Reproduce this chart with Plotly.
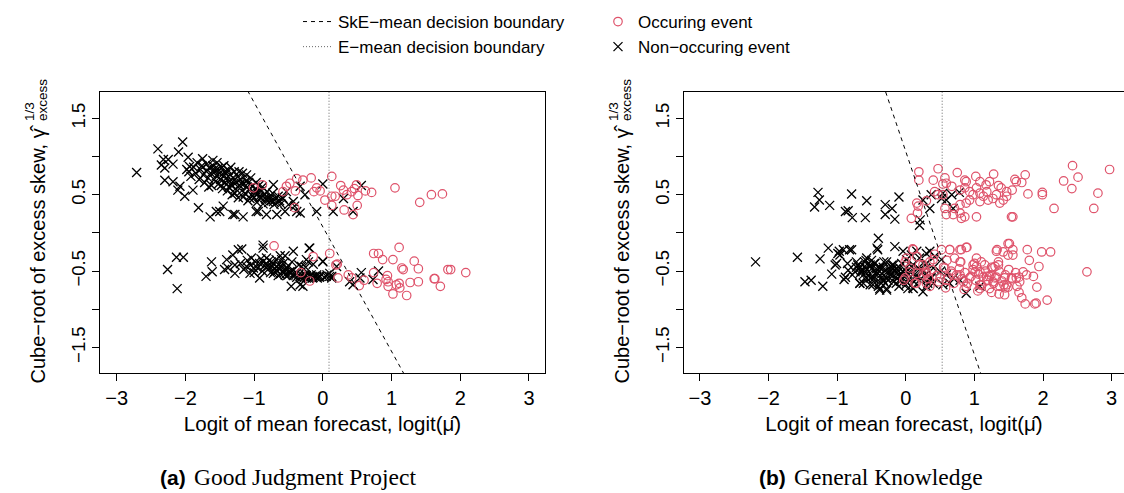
import plotly.graph_objects as go

# ================= DATA =================
# Panel (a) Good Judgment Project  -- (logit of mean forecast, cube-root excess skew)
a_non_upper = [
    (-2.71, 0.79), (-2.40, 1.10), (-2.04, 1.19), (-2.10, 1.06), (-2.32, 0.96), (-2.25, 0.96),
    (-2.35, 0.89), (-2.18, 0.90), (-2.30, 0.85), (-1.96, 0.99), (-1.94, 0.87), (-1.98, 0.83),
    (-2.30, 0.69), (-2.18, 0.67), (-2.08, 0.61), (-2.01, 0.48), (-2.11, 0.56), (-1.89, 0.56),
    (-1.81, 0.33), (-1.64, 0.21), (-1.55, 0.28), (-1.45, 0.35), (-1.28, 0.24), (-1.16, 0.21),
    (-0.94, 0.28), (-0.82, 0.24), (-0.67, 0.24), (-0.55, 0.28), (-0.72, 0.63), (-0.33, 0.61),
    (-0.26, 0.50), (-0.50, 0.37), (-0.41, 0.35), (-0.33, 0.26), (-0.09, 0.28), (0.15, 0.28),
    (0.30, 0.45), (-0.58, 0.45), (-0.53, 0.54), (0.00, 0.64), (0.56, 0.62), (0.44, 0.28),
    (-1.50, 0.28), (-1.31, 0.24), (-0.97, 0.28), (-0.43, 0.41), (-0.38, 0.28),
    (-1.95, 0.80), (-1.92, 0.74), (-1.88, 0.86), (-1.85, 0.78), (-1.83, 0.92), (-1.80, 0.70),
    (-1.78, 0.83), (-1.76, 0.88), (-1.74, 0.76), (-1.72, 0.66), (-1.70, 0.81), (-1.69, 0.90),
    (-1.67, 0.72), (-1.65, 0.85), (-1.63, 0.78), (-1.62, 0.62), (-1.60, 0.88), (-1.58, 0.70),
    (-1.57, 0.80), (-1.55, 0.75), (-1.53, 0.84), (-1.52, 0.64), (-1.50, 0.78), (-1.49, 0.70),
    (-1.47, 0.86), (-1.46, 0.58), (-1.45, 0.74), (-1.43, 0.80), (-1.42, 0.66), (-1.40, 0.72),
    (-1.39, 0.55), (-1.38, 0.82), (-1.36, 0.68), (-1.35, 0.76), (-1.33, 0.62), (-1.32, 0.50),
    (-1.30, 0.72), (-1.29, 0.80), (-1.27, 0.58), (-1.26, 0.66), (-1.24, 0.74), (-1.23, 0.46),
    (-1.21, 0.62), (-1.20, 0.70), (-1.18, 0.55), (-1.17, 0.78), (-1.15, 0.64), (-1.13, 0.52),
    (-1.12, 0.68), (-1.10, 0.60), (-1.09, 0.42), (-1.07, 0.56), (-1.05, 0.72), (-1.04, 0.50),
    (-1.02, 0.62), (-1.00, 0.46), (-0.98, 0.57), (-0.96, 0.40), (-0.95, 0.52), (-0.93, 0.62),
    (-0.91, 0.46), (-0.89, 0.55), (-0.87, 0.38), (-0.85, 0.50), (-0.83, 0.44), (-0.81, 0.54),
    (-0.79, 0.40), (-0.77, 0.48), (-0.75, 0.42), (-0.73, 0.52), (-0.71, 0.37), (-0.69, 0.45),
    (-0.67, 0.40), (-0.65, 0.48), (-0.63, 0.42), (-0.61, 0.38), (-0.59, 0.46), (-1.60, 0.95),
    (-1.75, 0.97), (-1.66, 0.60), (-1.54, 0.92), (-1.44, 0.88), (-1.34, 0.86), (-1.22, 0.80),
    (-1.11, 0.76), (-1.48, 0.62), (-1.37, 0.60), (-1.28, 0.52), (-1.16, 0.47), (-1.06, 0.45),
    (-0.97, 0.66), (-0.88, 0.60), (-1.58, 0.83), (-1.51, 0.72), (-1.41, 0.77), (-1.31, 0.67),
    (-1.19, 0.65), (-1.08, 0.66), (-0.99, 0.52), (-0.92, 0.48), (-0.84, 0.46), (-0.78, 0.44),
    (-0.72, 0.41),
]
a_non_lower = [
    (-2.26, -0.48), (-2.13, -0.32), (-2.03, -0.32), (-2.12, -0.73), (-1.62, -0.38), (-1.61, -0.51),
    (-1.70, -0.57), (-1.40, -0.35), (-1.31, -0.29), (-1.23, -0.22), (-1.18, -0.21), (-1.38, -0.46),
    (-1.28, -0.42), (-1.43, -0.48), (-1.28, -0.53), (-1.04, -0.33), (-1.11, -0.44), (-1.01, -0.46),
    (-1.06, -0.53), (-0.92, -0.40), (-0.92, -0.59), (-0.82, -0.33), (-0.87, -0.20), (-0.75, -0.38),
    (-0.67, -0.44), (-0.70, -0.51), (-0.60, -0.35), (-0.53, -0.46), (-0.48, -0.51), (-0.43, -0.24),
    (-0.55, -0.55), (-0.38, -0.53), (-0.31, -0.44), (-0.19, -0.20), (-0.21, -0.38), (-0.17, -0.55),
    (-0.09, -0.55), (0.00, -0.38), (0.05, -0.57), (0.13, -0.57), (-0.04, -0.57), (-0.46, -0.70),
    (-0.29, -0.70), (-0.87, -0.38), (-0.80, -0.44), (-0.72, -0.53), (-0.65, -0.56), (-0.58, -0.51),
    (-0.24, -0.59), (-0.14, -0.58), (-0.33, -0.57), (-0.50, -0.55), (-0.87, -0.16),
    (-0.20, -0.20), (-0.24, -0.35), (-0.14, -0.41), (0.00, -0.37), (-0.26, -0.55), (-0.09, -0.57),
    (0.10, -0.53), (0.13, -0.59), (0.20, -0.44), (0.39, -0.64), (0.44, -0.68), (0.56, -0.52),
    (0.54, -0.59), (0.81, -0.50), (0.73, -0.61), (-0.33, -0.68),
    (-1.20, -0.40), (-1.15, -0.48), (-1.10, -0.36), (-1.05, -0.42), (-1.00, -0.52), (-0.98, -0.38),
    (-0.95, -0.46), (-0.90, -0.34), (-0.88, -0.50), (-0.85, -0.43), (-0.82, -0.40), (-0.80, -0.48),
    (-0.78, -0.36), (-0.76, -0.52), (-0.74, -0.44), (-0.72, -0.40), (-0.70, -0.47), (-0.68, -0.35),
    (-0.66, -0.50), (-0.64, -0.42), (-0.62, -0.54), (-0.60, -0.45), (-0.58, -0.40), (-0.56, -0.52),
    (-0.54, -0.48), (-0.52, -0.56), (-0.50, -0.43), (-0.48, -0.53), (-0.45, -0.50), (-0.43, -0.56),
    (-0.40, -0.52), (-0.38, -0.58), (-0.35, -0.55), (-0.32, -0.59), (-0.30, -0.56), (-0.27, -0.58),
    (-0.24, -0.56), (-0.21, -0.59), (-0.18, -0.57), (-0.15, -0.59), (-0.12, -0.57), (-0.08, -0.59),
    (-0.05, -0.58), (0.02, -0.58), (0.06, -0.55), (0.10, -0.57), (-0.62, -0.30), (-0.55, -0.30),
    (-0.45, -0.38), (-0.35, -0.42), (-0.25, -0.45),
]
a_occ_upper = [
    (-1.01, 0.59), (-0.88, 0.63), (-0.58, 0.54), (-0.53, 0.61), (-0.48, 0.65), (-0.38, 0.71),
    (-0.40, 0.55), (-0.41, 0.33), (-0.29, 0.69), (-0.17, 0.72), (-0.13, 0.54), (-0.09, 0.59),
    (-0.04, 0.55), (0.03, 0.43), (0.13, 0.74), (0.13, 0.48), (0.13, 0.36), (0.18, 0.48),
    (0.26, 0.62), (0.30, 0.56), (0.35, 0.50), (0.42, 0.54), (0.46, 0.58), (0.49, 0.63),
    (0.51, 0.49), (0.50, 0.36), (0.44, 0.24), (0.31, 0.30), (0.62, 0.55), (0.71, 0.53),
    (1.05, 0.59), (1.41, 0.40), (1.58, 0.50), (1.74, 0.51),
]
a_occ_lower = [
    (-0.71, -0.17), (-0.32, -0.52), (-0.19, -0.63), (0.21, -0.41),
    (-0.14, -0.31), (0.10, -0.27), (0.19, -0.42), (0.22, -0.59), (0.37, -0.55), (0.42, -0.59),
    (0.53, -0.69), (0.60, -0.62), (0.74, -0.27), (0.81, -0.27), (0.87, -0.35), (0.74, -0.52),
    (0.79, -0.66), (0.92, -0.61), (0.94, -0.56), (0.95, -0.64), (1.02, -0.35), (1.11, -0.19),
    (1.02, -0.80), (1.15, -0.46), (1.17, -0.48), (1.11, -0.66), (1.12, -0.72), (1.22, -0.82),
    (1.27, -0.65), (1.33, -0.37), (1.39, -0.47), (1.39, -0.64), (1.62, -0.60), (1.63, -0.60),
    (1.71, -0.70), (1.82, -0.48), (1.86, -0.48), (2.08, -0.52), (0.95, -0.70), (1.07, -0.68),
]

# Panel (b) General Knowledge
b_non_upper = [
    (-1.28, 0.53), (-1.26, 0.43), (-1.33, 0.34), (-1.11, 0.36), (-0.79, 0.51), (-0.88, 0.28),
    (-0.84, 0.29), (-0.78, 0.20), (-0.59, 0.20), (-0.57, 0.42), (-0.30, 0.37), (-0.30, 0.24),
    (-0.20, 0.32), (-0.16, 0.18), (-0.10, 0.47), (0.20, 0.10), (0.21, 0.17), (0.25, 0.43),
    (0.37, 0.50), (0.35, 0.32), (0.54, 0.52), (0.59, 0.43), (0.67, 0.50), (0.78, 0.53),
    (0.69, 0.32), (0.52, 0.45),
]
b_non_lower = [
    (-2.19, -0.38), (-1.58, -0.32), (-1.25, -0.34), (-1.13, -0.20), (-0.97, -0.24), (-0.96, -0.29),
    (-0.91, -0.22), (-0.82, -0.22), (-0.79, -0.22), (-0.40, -0.07), (-0.41, -0.22), (-0.16, -0.18),
    (-1.03, -0.42), (-1.01, -0.40), (-1.08, -0.54), (-0.84, -0.49), (-1.21, -0.70), (-1.47, -0.64),
    (-1.38, -0.62), (-0.90, -0.61), (-0.67, -0.66), (-0.38, -0.73), (-0.28, -0.75), (0.03, -0.73),
    (-0.72, -0.45), (-0.62, -0.49), (-0.52, -0.42), (-0.43, -0.47), (-0.33, -0.45), (-0.23, -0.51),
    (-0.14, -0.47), (-0.04, -0.51), (-0.67, -0.53), (-0.57, -0.59), (-0.48, -0.57), (-0.38, -0.64),
    (-0.28, -0.59), (-0.18, -0.64), (-0.09, -0.57), (0.01, -0.64), (-0.60, -0.38), (-0.50, -0.36),
    (-0.99, -0.27), (-0.42, -0.20),
    (-0.72, -0.38), (-0.57, -0.33), (-0.67, -0.46), (-0.52, -0.44), (-0.45, -0.40), (-0.38, -0.46),
    (-0.28, -0.38), (-0.18, -0.42), (-0.09, -0.46), (0.01, -0.35), (0.11, -0.42), (0.20, -0.48),
    (0.30, -0.40), (0.40, -0.46), (0.50, -0.51), (0.59, -0.55), (0.69, -0.59), (0.79, -0.62),
    (-0.67, -0.66), (-0.48, -0.68), (-0.38, -0.75), (-0.28, -0.73), (-0.14, -0.66), (0.11, -0.73),
    (0.25, -0.77), (0.30, -0.70), (0.40, -0.66), (0.54, -0.68), (0.64, -0.66), (-0.62, -0.55),
    (-0.52, -0.59), (-0.43, -0.55), (-0.33, -0.62), (-0.21, -0.55), (0.03, -0.53), (0.16, -0.59),
    (0.28, -0.55), (0.37, -0.59), (-0.74, -0.51), (-0.57, -0.48), (-0.35, -0.53), (-0.23, -0.48),
    (-0.14, -0.53), (-0.04, -0.24), (0.16, -0.24), (0.30, -0.27), (0.35, -0.24), (0.08, -0.29),
    (0.20, -0.33), (0.42, -0.31), (0.52, -0.35), (0.88, -0.79), (1.08, -0.70),
    (-0.70, -0.42), (-0.65, -0.50), (-0.60, -0.44), (-0.55, -0.55), (-0.50, -0.47), (-0.47, -0.60),
    (-0.42, -0.52), (-0.38, -0.45), (-0.35, -0.58), (-0.30, -0.50), (-0.26, -0.62), (-0.22, -0.55),
    (-0.19, -0.47), (-0.15, -0.58), (-0.12, -0.52), (-0.08, -0.63), (-0.05, -0.55), (-0.02, -0.48),
    (0.04, -0.60), (0.07, -0.52), (0.12, -0.64), (0.15, -0.56), (0.22, -0.60), (0.26, -0.50),
    (0.32, -0.66), (0.36, -0.58), (-0.78, -0.55), (-0.85, -0.40), (-0.88, -0.58), (-0.62, -0.66),
    (-0.52, -0.68), (-0.40, -0.70), (-0.30, -0.66), (-0.10, -0.70), (0.00, -0.68), (0.10, -0.72),
    (-0.58, -0.36), (-0.46, -0.40), (-0.32, -0.38), (-0.20, -0.42), (-0.06, -0.40), (0.08, -0.44),
    (0.18, -0.46), (0.28, -0.42),
]
b_occ_upper = [
    (0.19, 0.80), (0.19, 0.69), (0.47, 0.84), (0.40, 0.69), (0.75, 0.79), (0.57, 0.72),
    (0.54, 0.64), (0.67, 0.61), (0.59, 0.65), (0.86, 0.69), (0.88, 0.67), (1.02, 0.74),
    (1.08, 0.67), (1.17, 0.63), (1.22, 0.67), (1.28, 0.77), (1.35, 0.62), (1.39, 0.59),
    (1.47, 0.54), (1.55, 0.56), (1.59, 0.70), (1.61, 0.67), (1.69, 0.66), (1.74, 0.76),
    (1.78, 0.51), (1.99, 0.53), (1.99, 0.50), (2.16, 0.32), (2.30, 0.68), (2.43, 0.88),
    (2.51, 0.73), (2.42, 0.58), (2.74, 0.32), (2.80, 0.52), (2.97, 0.83), (0.79, 0.56),
    (0.86, 0.59), (0.93, 0.54), (0.98, 0.50), (1.03, 0.59), (1.08, 0.52), (1.13, 0.48),
    (1.18, 0.54), (1.20, 0.43), (1.27, 0.45), (1.32, 0.50), (1.37, 0.39), (1.42, 0.43),
    (1.47, 0.48), (1.08, 0.41), (1.03, 0.21), (0.86, 0.21), (0.81, 0.19), (0.79, 0.26),
    (0.69, 0.24), (0.59, 0.24), (0.57, 0.32), (0.71, 0.32), (0.79, 0.37), (0.88, 0.39),
    (0.93, 0.43), (1.54, 0.21), (1.56, 0.21), (0.54, 0.50), (0.47, 0.50), (0.42, 0.54),
    (0.30, 0.42), (0.18, 0.35), (0.17, 0.26), (0.08, 0.19), (0.16, 0.39),
]
b_occ_lower = [
    (0.10, -0.21), (0.01, -0.33), (-0.01, -0.59), (0.13, -0.66), (0.20, -0.42), (0.30, -0.51),
    (0.35, -0.38), (0.42, -0.28), (0.52, -0.22), (0.64, -0.22), (0.79, -0.22), (0.88, -0.19),
    (0.71, -0.33), (0.79, -0.38), (0.57, -0.46), (0.67, -0.53), (0.59, -0.62), (0.50, -0.59),
    (0.79, -0.55), (0.84, -0.64), (0.93, -0.59), (0.88, -0.70), (0.98, -0.42), (1.03, -0.33),
    (1.08, -0.51), (1.18, -0.57), (1.27, -0.64), (1.37, -0.70), (1.47, -0.68), (1.44, -0.59),
    (1.27, -0.46), (1.35, -0.38), (1.32, -0.24), (1.49, -0.14), (1.22, -0.73), (1.08, -0.73),
    (0.30, -0.66), (0.16, -0.53), (0.06, -0.46),
    (1.51, -0.14), (1.33, -0.22), (1.42, -0.25), (1.49, -0.29), (1.56, -0.22), (1.56, -0.29),
    (1.77, -0.22), (1.80, -0.36), (1.98, -0.25), (2.11, -0.25), (1.94, -0.44), (1.71, -0.51),
    (1.76, -0.55), (1.86, -0.57), (1.91, -0.71), (2.06, -0.88), (1.90, -0.92), (1.88, -0.93),
    (1.74, -0.93), (1.69, -0.85), (1.65, -0.78), (1.62, -0.70), (1.49, -0.71), (1.44, -0.81),
    (1.36, -0.80), (1.43, -0.68), (1.54, -0.59), (1.61, -0.59), (1.66, -0.64), (1.30, -0.44),
    (1.35, -0.42), (1.30, -0.59), (1.22, -0.57), (1.18, -0.62), (1.08, -0.68), (1.01, -0.51),
    (1.03, -0.44), (1.10, -0.38), (0.89, -0.19), (0.64, -0.22), (0.81, -0.22), (2.64, -0.51),
    (0.11, -0.22), (0.16, -0.31), (-0.01, -0.38), (-0.03, -0.62), (0.15, -0.66), (0.06, -0.51),
    (0.25, -0.42), (0.30, -0.53),
    (0.25, -0.55), (0.33, -0.60), (0.38, -0.48), (0.45, -0.56), (0.48, -0.64), (0.55, -0.45),
    (0.62, -0.58), (0.66, -0.50), (0.70, -0.66), (0.74, -0.55), (0.78, -0.47), (0.82, -0.60),
    (0.86, -0.52), (0.90, -0.66), (0.95, -0.57), (0.98, -0.48), (1.02, -0.62), (1.06, -0.54),
    (1.10, -0.68), (1.13, -0.58), (1.16, -0.50), (1.20, -0.62), (1.24, -0.55), (1.28, -0.66),
    (1.32, -0.58), (1.36, -0.50), (1.40, -0.63), (1.45, -0.55), (1.50, -0.48), (1.55, -0.60),
    (1.60, -0.52), (1.65, -0.58), (0.40, -0.35), (0.60, -0.36), (0.80, -0.38), (1.00, -0.40),
    (1.15, -0.42), (1.25, -0.45), (0.35, -0.70), (0.58, -0.72), (0.85, -0.74), (1.05, -0.76),
    (1.25, -0.78), (1.45, -0.72),
]

# decision boundaries: E-mean = vertical line at x; SkE-mean = line through (x0, 0) with slope dy/dx
e_mean_a = 0.09
ske_a = (0.048, -1.63)
e_mean_b = 0.53
ske_b = (0.40, -2.66)

x_ticks = [-3, -2, -1, 0, 1, 2, 3]
x_ticktext = ["\u22123", "\u22122", "\u22121", "0", "1", "2", "3"]
y_ticks = [-1.5, -1.0, -0.5, 0.0, 0.5, 1.0, 1.5]
y_ticktext = ["\u22121.5", "", "\u22120.5", "", "0.5", "", "1.5"]

# ================= LAYOUT CONSTANTS =================
W, H = 1124, 493
RED = "#DF536B"
SANS = "Liberation Sans, Arial, Helvetica, sans-serif"
SERIF = "Liberation Serif, Times New Roman, serif"
X_RANGE_A = [-3.243, 3.233]
X_RANGE_B = [-3.233, 3.18]
Y_RANGE = [-1.835, 1.845]
DOM_A = [100 / W, 545 / W]
DOM_B = [684 / W, 1.0]
DOM_Y = [1 - 373 / H, 1 - 92 / H]

fig = go.Figure()


def add_panel(non, occ, e_mean, ske, xa, ya, show):
    nx = [p[0] for p in non]
    ny = [p[1] for p in non]
    ox = [p[0] for p in occ]
    oy = [p[1] for p in occ]
    fig.add_trace(go.Scatter(
        x=nx, y=ny, mode="markers", xaxis=xa, yaxis=ya,
        marker=dict(symbol="x-thin-open", size=9, color="black", line=dict(color="black", width=1.3)),
        name="Non\u2212occuring event", legend="legend2", legendrank=2, showlegend=show,
    ))
    fig.add_trace(go.Scatter(
        x=ox, y=oy, mode="markers", xaxis=xa, yaxis=ya,
        marker=dict(symbol="circle-open", size=8.5, color=RED, line=dict(color=RED, width=1.2)),
        name="Occuring event", legend="legend2", legendrank=1, showlegend=show,
    ))
    y_ends = [Y_RANGE[1] + 0.2, Y_RANGE[0] - 0.2]
    x0, slope = ske
    fig.add_trace(go.Scatter(
        x=[x0 + yy / slope for yy in y_ends], y=y_ends, mode="lines", xaxis=xa, yaxis=ya,
        line=dict(color="black", width=1, dash="4px,4px"),
        name="SkE\u2212mean decision boundary", legend="legend", legendrank=1, showlegend=show,
    ))
    fig.add_trace(go.Scatter(
        x=[e_mean, e_mean], y=y_ends, mode="lines", xaxis=xa, yaxis=ya,
        line=dict(color="#666666", width=1, dash="1px,2px"),
        name="E\u2212mean decision boundary", legend="legend", legendrank=2, showlegend=show,
    ))


add_panel(a_non_upper + a_non_lower, a_occ_upper + a_occ_lower, e_mean_a, ske_a, "x", "y", True)
add_panel(b_non_upper + b_non_lower, b_occ_upper + b_occ_lower, e_mean_b, ske_b, "x2", "y2", False)

xa_common = dict(
    tickmode="array", tickvals=x_ticks, ticktext=x_ticktext,
    ticks="outside", ticklen=7, tickcolor="black", tickwidth=1,
    showline=True, linecolor="black", linewidth=1, mirror=True,
    showgrid=False, zeroline=False,
    tickfont=dict(family=SANS, size=20, color="black"),
    title=dict(text="Logit of mean forecast, logit(\u03bc\u0302)",
               font=dict(family=SANS, size=20.5, color="black"), standoff=8),
)
ya_common = dict(
    tickmode="array", tickvals=y_ticks, ticktext=y_ticktext, tickangle=-90,
    ticks="outside", ticklen=7, tickcolor="black", tickwidth=1,
    showline=True, linecolor="black", linewidth=1, mirror=True,
    showgrid=False, zeroline=False, range=Y_RANGE,
    tickfont=dict(family=SANS, size=18.5, color="black"),
)

fig.update_layout(
    width=W, height=H, margin=dict(l=0, r=0, t=0, b=0),
    paper_bgcolor="white", plot_bgcolor="white",
    xaxis=dict(domain=DOM_A, range=X_RANGE_A, anchor="y", **xa_common),
    yaxis=dict(domain=DOM_Y, anchor="x", **ya_common),
    xaxis2=dict(domain=DOM_B, range=X_RANGE_B, anchor="y2", **xa_common),
    yaxis2=dict(domain=DOM_Y, anchor="x2", **ya_common),
    legend=dict(x=(298) / W, y=1 - 4 / H, xanchor="left", yanchor="top",
                bgcolor="rgba(0,0,0,0)", font=dict(family=SANS, size=17, color="black"),
                itemwidth=30, tracegroupgap=0),
    legend2=dict(x=(598) / W, y=1 - 4 / H, xanchor="left", yanchor="top",
                 bgcolor="rgba(0,0,0,0)", font=dict(family=SANS, size=17, color="black"),
                 itemwidth=30, tracegroupgap=0),
    showlegend=True,
)

annotations = []
for left_px, cap_lab, cap_txt, cap_split in [(100, "(a)", "Good Judgment Project", 188),
                                              (684, "(b)", "General Knowledge", 788)]:
    # y axis title (rotated) with stacked super/subscript
    annotations.append(dict(
        xref="paper", yref="paper", x=(left_px - 63) / W, y=1 - 386 / H,
        xanchor="center", yanchor="bottom", textangle=-90, showarrow=False,
        text="Cube\u2212root of excess skew, \u03b3\u0302",
        font=dict(family=SANS, size=20, color="black"),
    ))
    annotations.append(dict(
        xref="paper", yref="paper", x=(left_px - 71) / W, y=1 - 112 / H,
        xanchor="center", yanchor="middle", textangle=-90, showarrow=False,
        text="1/3", font=dict(family=SANS, size=13.5, color="black"),
    ))
    annotations.append(dict(
        xref="paper", yref="paper", x=(left_px - 58) / W, y=1 - 100 / H,
        xanchor="center", yanchor="middle", textangle=-90, showarrow=False,
        text="excess", font=dict(family=SANS, size=13.5, color="black"),
    ))
    # captions
    annotations.append(dict(
        xref="paper", yref="paper", x=cap_split / W, y=1 - 477 / H,
        xanchor="right", yanchor="middle", showarrow=False,
        text="<b>" + cap_lab + "</b>", font=dict(family=SANS, size=21, color="black"),
    ))
    annotations.append(dict(
        xref="paper", yref="paper", x=(cap_split + 4) / W, y=1 - 477 / H,
        xanchor="left", yanchor="middle", showarrow=False,
        text=cap_txt, font=dict(family=SERIF, size=23.5, color="black"),
    ))
fig.update_layout(annotations=annotations)

fig.write_html("out.html")
